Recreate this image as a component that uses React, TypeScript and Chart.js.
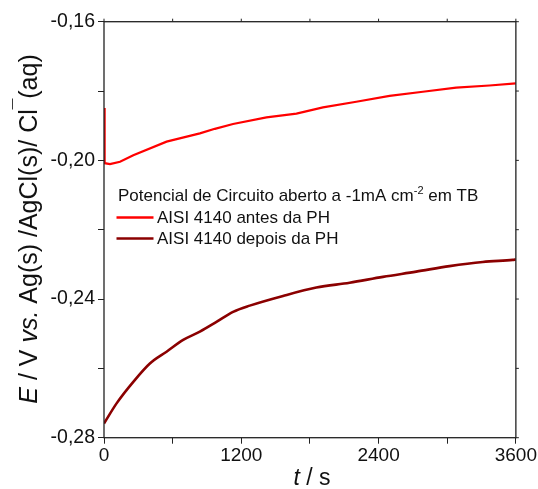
import React, { useEffect, useRef } from "react";
import { Chart, registerables } from "chart.js";

Chart.register(...registerables);

const tAntes = [0, 3, 8, 52, 140, 256, 547, 838, 969, 1128, 1420, 1682, 1914, 2205, 2496, 2787, 3078, 3369, 3600];
const eAntes = [-0.1849, -0.197, -0.2008, -0.2011, -0.2004, -0.1985, -0.1946, -0.1922, -0.1909, -0.1895, -0.1876, -0.1865, -0.1847, -0.1831, -0.1814, -0.1802, -0.179, -0.1784, -0.1778];

const tDepois = [0, 110, 256, 401, 547, 692, 838, 983, 1128, 1274, 1565, 1856, 2147, 2438, 2729, 3020, 3311, 3573, 3600];
const eDepois = [-0.2759, -0.2701, -0.2639, -0.2586, -0.2552, -0.2518, -0.2494, -0.2466, -0.2437, -0.2419, -0.2391, -0.2367, -0.2353, -0.2336, -0.2321, -0.2305, -0.2293, -0.2287, -0.2286];

const seriesLabels = ["AISI 4140 antes da PH", "AISI 4140 depois da PH"];
const legendTitleMain = "Potencial de Circuito aberto a -1mA cm";
const legendTitleSup = "-2";
const legendTitleEnd = " em TB";

const xMajor = [0, 1200, 2400, 3600];
const yMajor = [-0.16, -0.2, -0.24, -0.28];

const FONT = "Arial, 'Liberation Sans', sans-serif";

function drawParts(ctx: any, parts: any[], cx: number, baseY: number, size: number) {
  const fontFor = (p: any) => `${p.it ? "italic " : ""}${p.sup ? Math.round(size * 0.75) : size}px ${FONT}`;
  let total = 0;
  const widths = parts.map((p) => {
    ctx.font = fontFor(p);
    const w = ctx.measureText(p.t).width;
    total += w;
    return w;
  });
  let x = cx - total / 2;
  ctx.textAlign = "left";
  ctx.fillStyle = "#111";
  parts.forEach((p, i) => {
    ctx.font = fontFor(p);
    ctx.fillText(p.t, x, baseY - (p.sup ? size * 0.45 : 0));
    x += widths[i];
  });
}

const decorPlugin = {
  id: "decor",
  afterDraw(chart: any) {
    const ctx = chart.ctx;
    const a = chart.chartArea;
    ctx.save();
    ctx.strokeStyle = "#222";
    ctx.lineWidth = 1.3;
    ctx.strokeRect(a.left, a.top, a.right - a.left, a.bottom - a.top);
    const xs = chart.scales.x;
    const ys = chart.scales.y;
    ctx.lineWidth = 1;
    for (let v = 0; v <= 3600; v += 600) {
      const px = xs.getPixelForValue(v);
      ctx.beginPath();
      ctx.moveTo(px, a.top);
      ctx.lineTo(px, a.top - 3);
      ctx.stroke();
    }
    for (let i = 0; i <= 6; i++) {
      const py = ys.getPixelForValue(-0.16 - i * 0.02);
      ctx.beginPath();
      ctx.moveTo(a.right, py);
      ctx.lineTo(a.right + 3, py);
      ctx.stroke();
    }

    // legend
    ctx.fillStyle = "#111";
    ctx.textBaseline = "alphabetic";
    ctx.textAlign = "left";
    const lx = 118;
    const ly = 201;
    ctx.font = `17px ${FONT}`;
    ctx.fillText(legendTitleMain, lx, ly);
    const w = ctx.measureText(legendTitleMain).width;
    ctx.font = `11px ${FONT}`;
    ctx.fillText(legendTitleSup, lx + w, ly - 7);
    const w2 = ctx.measureText(legendTitleSup).width;
    ctx.font = `17px ${FONT}`;
    ctx.fillText(legendTitleEnd, lx + w + w2, ly);
    chart.data.datasets.forEach((ds: any, i: number) => {
      const yy = 217.5 + i * 21;
      ctx.strokeStyle = ds.borderColor;
      ctx.lineWidth = 2.5;
      ctx.beginPath();
      ctx.moveTo(116.5, yy);
      ctx.lineTo(153.5, yy);
      ctx.stroke();
      ctx.fillStyle = "#111";
      ctx.font = `17px ${FONT}`;
      ctx.textBaseline = "middle";
      ctx.fillText(ds.label, 157, yy + 1);
    });

    // x title
    ctx.textBaseline = "alphabetic";
    drawParts(
      ctx,
      [
        { t: "t", it: true },
        { t: " / s", it: false },
      ],
      312,
      485,
      23
    );

    // y title
    ctx.save();
    ctx.translate(37, 229);
    ctx.rotate(-Math.PI / 2);
    drawParts(
      ctx,
      [
        { t: "E", it: true },
        { t: " / V ", it: false },
        { t: "vs.", it: true },
        { t: " Ag(s) /AgCl(s)/ Cl", it: false },
        { t: "\u00AF", it: false, sup: true },
        { t: "(aq)", it: false },
      ],
      0,
      0,
      25
    );
    ctx.restore();

    ctx.restore();
  },
};

export default function App() {
  const ref = useRef<HTMLCanvasElement | null>(null);
  useEffect(() => {
    if (!ref.current) return;
    const chart = new Chart(ref.current, {
      type: "line",
      data: {
        datasets: [
          {
            label: seriesLabels[0],
            data: tAntes.map((t, i) => ({ x: t, y: eAntes[i] })),
            borderColor: "#ff0000",
            borderWidth: 2.2,
            pointRadius: 0,
            tension: 0,
          },
          {
            label: seriesLabels[1],
            data: tDepois.map((t, i) => ({ x: t, y: eDepois[i] })),
            borderColor: "#8b0000",
            borderWidth: 2.6,
            pointRadius: 0,
            cubicInterpolationMode: "monotone",
          },
        ],
      },
      options: {
        animation: false,
        responsive: false,
        devicePixelRatio: 1,
        layout: { padding: { left: 0, top: 21.7, right: 21.3, bottom: 0 } },
        plugins: { legend: { display: false }, tooltip: { enabled: false } },
        scales: {
          x: {
            type: "linear",
            min: 0,
            max: 3600,
            border: { display: false },
            grid: { drawOnChartArea: false, drawTicks: true, tickLength: 6, color: "#222", lineWidth: 1 },
            ticks: {
              stepSize: 600,
              autoSkip: false,
              maxRotation: 0,
              padding: 1,
              color: "#111",
              font: { family: FONT, size: 19 },
              callback: (v: any) => (xMajor.includes(Number(v)) ? String(v) : ""),
            },
            afterFit: (s: any) => {
              s.height = 489 - 437.7;
            },
          },
          y: {
            type: "linear",
            min: -0.28,
            max: -0.16,
            border: { display: false },
            grid: { drawOnChartArea: false, drawTicks: true, tickLength: 6, color: "#222", lineWidth: 1 },
            ticks: {
              stepSize: 0.02,
              autoSkip: false,
              padding: 3,
              color: "#111",
              font: { family: FONT, size: 19.5 },
              callback: (v: any) => {
                const n = Number(v);
                const hit = yMajor.some((m) => Math.abs(m - n) < 1e-6);
                return hit ? n.toFixed(2).replace(".", ",") : "";
              },
            },
            afterFit: (s: any) => {
              s.width = 104;
            },
          },
        },
      },
      plugins: [decorPlugin],
    } as any);
    return () => chart.destroy();
  }, []);
  return (
    <div style={{ position: "absolute", left: 0, top: 0, width: 538, height: 489, background: "#fff" }}>
      <canvas ref={ref} width={538} height={489} />
    </div>
  );
}
